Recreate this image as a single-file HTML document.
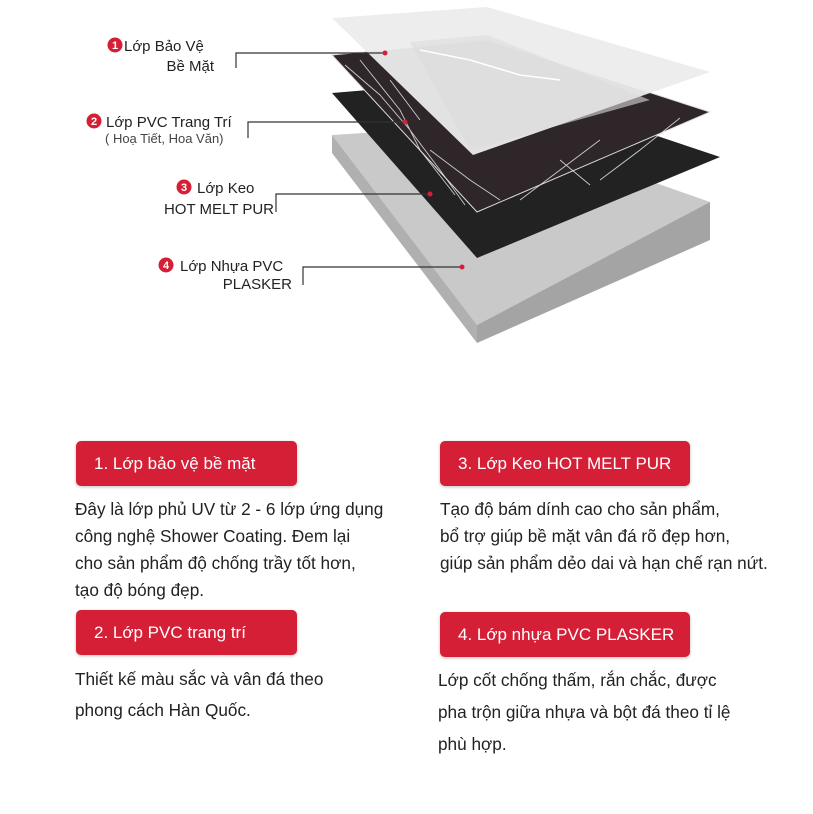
<!DOCTYPE html>
<html><head><meta charset="utf-8"><style>
body{margin:0;width:813px;height:814px;background:#fff;position:relative;overflow:hidden;font-family:"Liberation Sans",sans-serif;}
.b{position:absolute;background:#d51f36;border-radius:5px;color:#fff;font-size:17px;line-height:45px;padding-left:18px;box-sizing:border-box;box-shadow:0 1px 3px rgba(0,0,0,.25);white-space:nowrap;}
.p{position:absolute;font-size:17.2px;color:#222;line-height:27px;white-space:nowrap;}
</style></head><body>
<svg width="813" height="400" style="position:absolute;left:0;top:0">
<!-- slab -->
<polygon points="332,135 490,125 710,202 477,325" fill="#c9c9c9"/>
<polygon points="332,135 477,325 477,343 332,153" fill="#b0b0b0"/>
<polygon points="477,325 710,202 710,240 477,343" fill="#a4a4a4"/>
<!-- black -->
<polygon points="332,93 490,80 720,157 477,258" fill="#222"/>
<!-- marble -->
<polygon points="332,55 487,40 710,112 477,212" fill="#2e2628" stroke="#ddd" stroke-width="1"/>
<g stroke="#e8e8e8" stroke-width="0.9" fill="none" opacity=".85">
<path d="M345,65 L380,95 L410,130 L440,170 L465,205 M360,60 L400,110 L420,150 L455,195 M600,140 L560,170 L520,200 M680,118 L640,150 L600,180 M430,150 L470,180 L500,200 M560,160 L590,185 M390,80 L420,120"/>
</g>
<!-- clear sheet -->
<polygon points="332,18 487,7 710,72 473,155" fill="#ececec" opacity=".95"/>
<polygon points="410,42 487,35 650,100 470,150" fill="#dcdcdc" opacity=".6"/>
<path d="M420,50 L470,60 L520,75 L560,80" stroke="#fff" stroke-width="1.5" fill="none"/>
<!-- leaders -->
<g stroke="#333" stroke-width="1.2" fill="none">
<path d="M236,68 V53 H385"/>
<path d="M248,138 V122 H405"/>
<path d="M276,212 V194 H430"/>
<path d="M303,285 V267 H462"/>
</g>
<g fill="#d51f36"><circle cx="385" cy="53" r="2.5"/><circle cx="405" cy="122" r="2.5"/><circle cx="430" cy="194" r="2.5"/><circle cx="462" cy="267" r="2.5"/></g>
<g fill="#d51f36"><circle cx="115" cy="45" r="7.5"/><circle cx="94" cy="121" r="7.5"/><circle cx="184" cy="187" r="7.5"/><circle cx="166" cy="265" r="7.5"/></g>
<g fill="#fff" font-size="11" font-weight="bold" text-anchor="middle" font-family="Liberation Sans"><text x="115" y="49">1</text><text x="94" y="125">2</text><text x="184" y="191">3</text><text x="166" y="269">4</text></g>
<g fill="#222" font-size="15" font-family="Liberation Sans">
<text x="124" y="51">Lớp Bảo Vệ</text><text x="214" y="71" text-anchor="end">Bề Mặt</text>
<text x="106" y="127">Lớp PVC Trang Trí</text><text x="105" y="143" font-size="13" fill="#444">( Hoạ Tiết, Hoa Văn)</text>
<text x="197" y="193">Lớp Keo</text><text x="274" y="214" text-anchor="end">HOT MELT PUR</text>
<text x="180" y="271">Lớp Nhựa PVC</text><text x="292" y="289" text-anchor="end">PLASKER</text>
</g>
</svg>
<div class="b" style="left:76px;top:441px;width:221px;height:45px">1. Lớp bảo vệ bề mặt</div>
<div class="b" style="left:440px;top:441px;width:250px;height:45px">3. Lớp Keo HOT MELT PUR</div>
<div class="b" style="left:76px;top:610px;width:221px;height:45px">2. Lớp PVC trang trí</div>
<div class="b" style="left:440px;top:612px;width:250px;height:45px">4. Lớp nhựa PVC PLASKER</div>
<div class="p" style="left:75px;top:496px">Đây là lớp phủ UV từ 2 - 6 lớp ứng dụng<br>công nghệ Shower Coating. Đem lại<br>cho sản phẩm độ chống trầy tốt hơn,<br>tạo độ bóng đẹp.</div>
<div class="p" style="left:440px;top:496px">Tạo độ bám dính cao cho sản phẩm,<br>bổ trợ giúp bề mặt vân đá rõ đẹp hơn,<br>giúp sản phẩm dẻo dai và hạn chế rạn nứt.</div>
<div class="p" style="left:75px;top:664px;line-height:31px">Thiết kế màu sắc và vân đá theo<br>phong cách Hàn Quốc.</div>
<div class="p" style="left:438px;top:664px;line-height:32px">Lớp cốt chống thấm, rắn chắc, được<br>pha trộn giữa nhựa và bột đá theo tỉ lệ<br>phù hợp.</div>
</body></html>
